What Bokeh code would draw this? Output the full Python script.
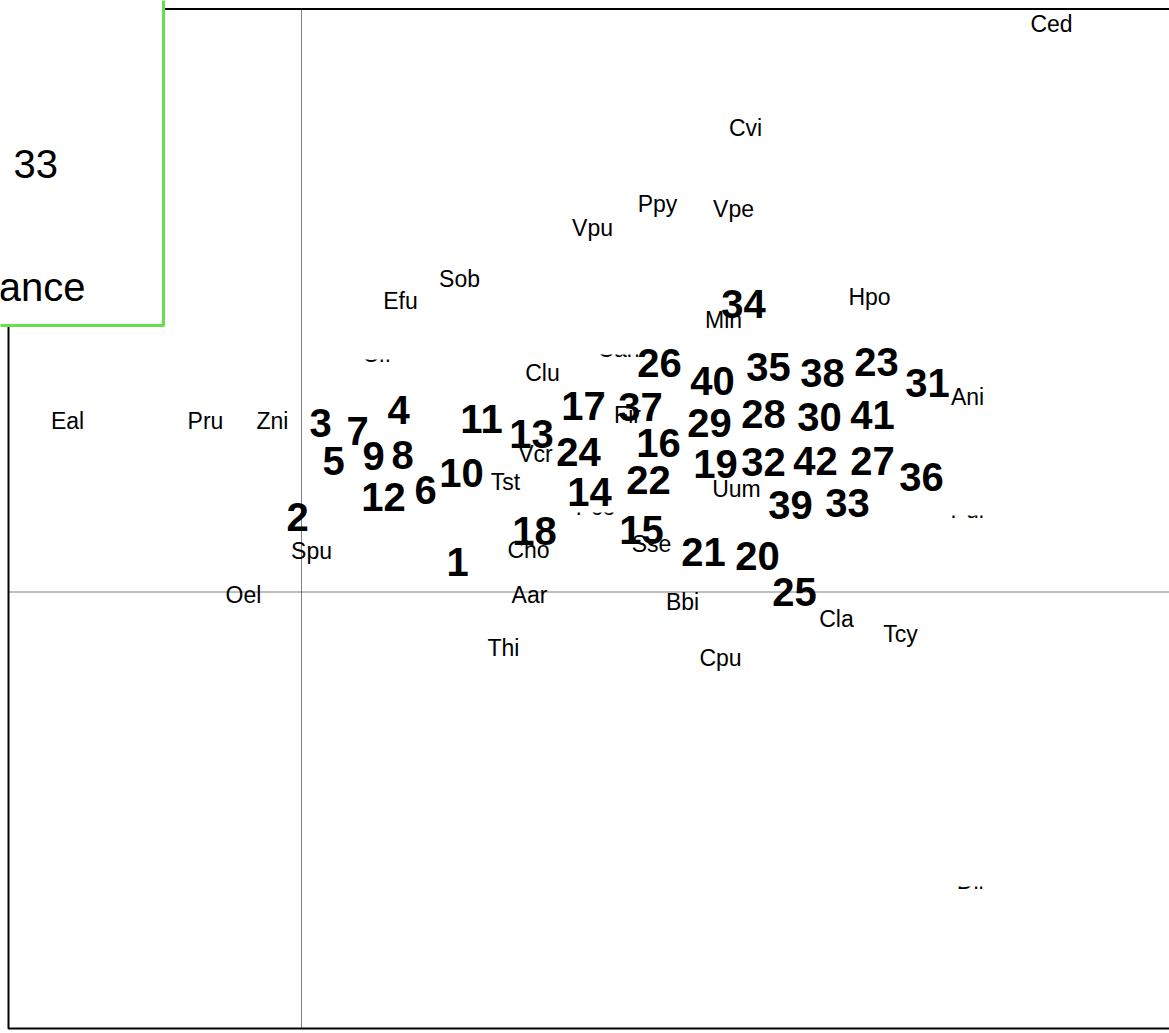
from bokeh.plotting import figure
from bokeh.models import Range1d
from bokeh.core.properties import value
from bokeh.embed import file_html
from bokeh.resources import INLINE

# Site scores on ordination axes 1 and 2 (sites labelled by number)
sample_ids = [str(i) for i in range(1, 43)]
sample_ax1 = [1.56, -0.04, 0.19, 0.97, 0.32, 1.24, 0.56, 1.01, 0.72, 1.60,
              1.80, 0.82, 2.30, 2.88, 3.40, 3.57, 2.82, 2.33, 4.14, 4.56,
              4.02, 3.47, 5.75, 2.77, 4.93, 3.58, 5.71, 4.62, 4.08, 5.18,
              6.26, 4.62, 5.46, 4.42, 4.67, 6.20, 3.39, 5.21, 4.89, 4.11,
              5.71, 5.14]
sample_ax2 = [0.30, 0.75, 1.69, 1.82, 1.31, 1.02, 1.61, 1.37, 1.36, 1.19,
              1.73, 0.95, 1.58, 1.00, 0.62, 1.49, 1.86, 0.61, 1.28, 0.36,
              0.40, 1.12, 2.30, 1.40, 0.00, 2.29, 1.31, 1.78, 1.69, 1.75,
              2.09, 1.30, 0.89, 2.88, 2.25, 1.15, 1.85, 2.19, 0.87, 2.11,
              1.77, 1.31]

# Species scores on the same axes
species_codes = ["Ced", "Cvi", "Ppy", "Vpe", "Vpu", "Sob", "Efu", "Hpo", "Min",
                 "Clu", "Eal", "Pru", "Zni", "Fir", "Ani", "Vcr", "Tst", "Uum",
                 "Spu", "Cho", "Sse", "Oel", "Aar", "Bbi", "Cla", "Tcy", "Thi",
                 "Cpu"]
species_ax1 = [7.50, 4.44, 3.56, 4.32, 2.91, 1.58, 0.99, 5.68, 4.22,
               2.41, -2.34, -0.96, -0.29, 3.26, 6.66, 2.34, 2.04, 4.35,
               0.10, 2.27, 3.50, -0.58, 2.28, 3.81, 5.35, 5.99, 2.02,
               4.19]
species_ax2 = [5.68, 4.64, 3.88, 3.83, 3.64, 3.13, 2.91, 2.95, 2.72,
               2.19, 1.71, 1.71, 1.71, 1.77, 1.95, 1.38, 1.10, 1.03,
               0.41, 0.42, 0.48, -0.03, -0.03, -0.10, -0.27, -0.42, -0.56,
               -0.66]

# Species whose labels lie under other label boxes: only their lower edge shows
covered_codes = ["Cfr", "Can", "Pco", "Pur", "Dir"]
covered_ax1 = [0.76, 3.17, 2.94, 6.67, 6.70]
covered_ax2 = [2.38, 2.43, 0.85, 0.82, -2.89]

legend_value = "33"
legend_caption = "ance"

# Plot box limits (axis units)
BOX_LEFT, BOX_RIGHT, BOX_TOP, BOX_BOTTOM = -2.93, 9.5, 5.83, -4.365

FONT = value("Liberation Sans")

p = figure(width=1169, height=1033,
           x_range=Range1d(-3.01, 8.68), y_range=Range1d(-4.415, 5.915),
           x_axis_location=None, y_axis_location=None,
           output_backend="svg", toolbar_location=None,
           min_border=0, outline_line_color=None)
p.grid.visible = False
p.background_fill_color = "white"
p.border_fill_color = "white"

# plot box
p.quad(left=[BOX_LEFT], right=[BOX_RIGHT], top=[BOX_TOP], bottom=[BOX_BOTTOM],
       fill_color=None, line_color="black", line_width=2)

# dotted zero lines of both axes
p.segment(x0=[0, BOX_LEFT], y0=[BOX_BOTTOM, 0], x1=[0, BOX_RIGHT], y1=[BOX_TOP, 0],
          line_color="black", line_width=1, line_dash="1 1")

# species labels
p.text(x=species_ax1, y=species_ax2, text=species_codes, text_font=FONT,
       text_font_size="23px", text_align="center", text_baseline="middle",
       text_color="black")

p.text(x=covered_ax1, y=covered_ax2, text=covered_codes, text_font=FONT,
       text_font_size="23px", text_align="center", text_baseline="middle",
       text_color="black")
p.quad(left=[x - 0.3 for x in covered_ax1], right=[x + 0.3 for x in covered_ax1],
       top=[y + 0.2 for y in covered_ax2], bottom=[y - 0.055 for y in covered_ax2],
       fill_color="white", line_color=None)

# site numbers
p.text(x=sample_ax1, y=sample_ax2, text=sample_ids, text_font=FONT,
       text_font_size="40px", text_font_style="bold", text_align="center",
       text_baseline="middle", text_color="black")

# legend panel in the upper left corner
p.quad(left=[-3.6], right=[-1.38], top=[6.5], bottom=[2.665],
       fill_color="white", line_color="#66e04a", line_width=3)
p.text(x=[-2.88], y=[4.285], text=[legend_value], text_font=FONT,
       text_font_size="40px", text_align="left", text_baseline="middle",
       text_color="black")
p.text(x=[-2.16], y=[3.055], text=[legend_caption], text_font=FONT,
       text_font_size="40px", text_align="right", text_baseline="middle",
       text_color="black")

open("out.html", "w").write(file_html(p, INLINE))
